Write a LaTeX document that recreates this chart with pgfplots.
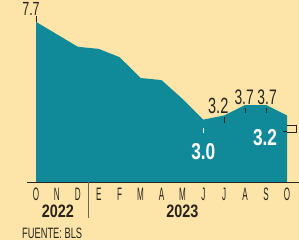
\documentclass[border=0pt]{standalone}
\usepackage{pgfplots}
\pgfplotsset{compat=1.18}
\usepackage{fontspec}
\setmainfont{Liberation Sans}
\newfontfamily\tickf[FakeStretch=0.45]{Liberation Sans}
\newfontfamily\yearf[FakeStretch=0.8]{Liberation Sans}
\newfontfamily\annf[FakeStretch=0.66]{Liberation Sans}
\newfontfamily\whitef[FakeStretch=0.75]{Liberation Sans}
\newfontfamily\srcf[FakeStretch=0.62]{Liberation Sans}
\definecolor{bg}{RGB}{253,229,169}
\definecolor{tealc}{RGB}{16,138,153}
\definecolor{ink}{RGB}{40,35,30}
\begin{document}
\begin{tikzpicture}
\fill[bg] (0,0) rectangle (299pt,240pt);
\useasboundingbox (0,0) rectangle (299pt,240pt);
\begin{axis}[
  at={(36pt,58pt)}, anchor=origin,
  scale only axis, width=251pt, height=166.4pt,
  xmin=0, xmax=12, ymin=0, ymax=8,
  clip=false,
  axis line style={draw=none},
  ytick=\empty,
  xtick={0,1,2,3,4,5,6,7,8,9,10,11,12},
  xticklabels={O,N,D,E,F,M,A,M,J,J,A,S,O},
  major tick length=0pt,
  xticklabel style={anchor=north, inner sep=0pt, yshift=-6pt, text=ink,
    font=\tickf\fontsize{18}{18}\selectfont},
]
\addplot[fill=tealc, draw=none] coordinates {
 (0,7.7) (1,7.1) (2,6.5) (3,6.4) (4,6.0) (5,5.0) (6,4.9) (7,4.0)
 (8,3.0) (9,3.2) (10,3.7) (11,3.7) (12,3.2)} \closedcycle;
% baseline and separator
\draw[ink, line width=0.8pt] (axis cs:-0.43,0) -- (axis cs:12.55,0);
\draw[ink!70, line width=0.8pt] (axis cs:2.5,0) -- ++(0,-36pt);
% year labels
\node[text=ink, font=\yearf\bfseries\fontsize{18}{18}\selectfont] at ([xshift=1pt,yshift=-29pt]axis cs:1,0) {2022};
\node[text=ink, font=\yearf\bfseries\fontsize{18}{18}\selectfont] at ([yshift=-29pt]axis cs:7,0) {2023};
% annotations
\draw[ink, line width=0.8pt] (axis cs:0,7.7) -- ++(0,6pt);
\node[inner sep=0pt, text=ink, font=\annf\fontsize{19}{19}\selectfont] at ([xshift=-5pt,yshift=13pt]axis cs:0,7.7) {7.7};
\draw[ink, line width=0.8pt] ([yshift=-2pt]axis cs:9,3.2) -- ++(0,-6pt);
\node[text=ink, font=\annf\fontsize{22}{22}\selectfont] at ([xshift=-6pt,yshift=10pt]axis cs:9,3.2) {3.2};
\draw[ink, line width=0.8pt] ([yshift=-3pt]axis cs:10,3.7) -- ++(0,-5pt);
\node[text=ink, font=\annf\fontsize{21}{21}\selectfont] at ([xshift=-1pt,yshift=8pt]axis cs:10,3.7) {3.7};
\draw[ink, line width=0.8pt] ([yshift=-3pt]axis cs:11,3.7) -- ++(0,-5pt);
\node[text=ink, font=\annf\fontsize{21}{21}\selectfont] at ([xshift=1pt,yshift=8pt]axis cs:11,3.7) {3.7};
\draw[white, line width=0.9pt] ([yshift=-8pt]axis cs:8,3.0) -- ++(0,-5pt);
\node[text=white, font=\whitef\bfseries\fontsize{23}{23}\selectfont] at ([yshift=-32pt]axis cs:8,3.0) {3.0};
\node[text=white, font=\whitef\bfseries\fontsize{23}{23}\selectfont] at ([xshift=-22pt,yshift=-22pt]axis cs:12,3.2) {3.2};
\draw[ink, line width=0.7pt] ([xshift=-4pt,yshift=-16pt]axis cs:12,3.2) -- ++(4pt,0);
\draw[ink, line width=0.7pt] ([yshift=-10pt]axis cs:12,3.2) -- ++(9pt,0) -- ++(0,-7pt) -- ++(-9pt,0);
\end{axis}
\node[anchor=north west, inner sep=0pt, text=ink, font=\srcf\fontsize{15}{15}\selectfont] at (22pt,12.5pt) {FUENTE: BLS};
\end{tikzpicture}
\end{document}
